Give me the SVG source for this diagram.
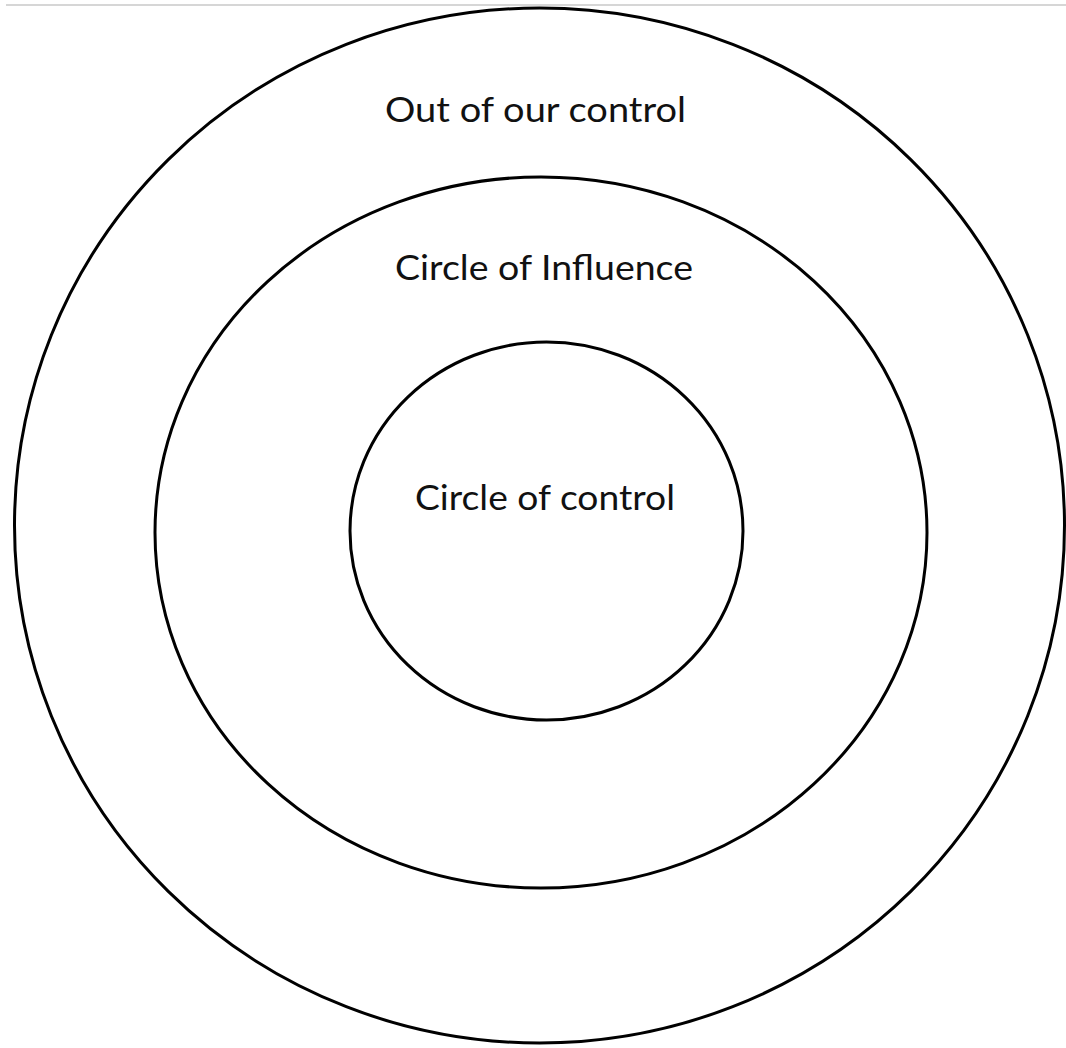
<svg xmlns="http://www.w3.org/2000/svg" width="1066" height="1048" viewBox="0 0 1066 1048">
<style>
.ring{fill:none;stroke:#000;stroke-width:3}
.lbl{font-family:Lato,"Open Sans","Liberation Sans",sans-serif;font-size:35px;fill:#111;text-anchor:middle}
</style>
<rect width="1066" height="1048" fill="#fff"/>
<line x1="6" y1="5" x2="1066" y2="5" stroke="#c8c8c8" stroke-width="1.5"/>
<g id="outer">
<ellipse class="ring" cx="539.5" cy="525.5" rx="525" ry="517.5"/>
<text class="lbl" x="535.5" y="122" textLength="301" lengthAdjust="spacingAndGlyphs">Out of our control</text>
</g>
<g id="influence">
<ellipse class="ring" cx="541" cy="532.5" rx="386" ry="355.5"/>
<text class="lbl" x="544" y="280" textLength="298" lengthAdjust="spacingAndGlyphs">Circle of Influence</text>
</g>
<g id="control">
<ellipse class="ring" cx="546.5" cy="531" rx="196.5" ry="189"/>
<text class="lbl" x="545" y="510" textLength="260" lengthAdjust="spacingAndGlyphs">Circle of control</text>
</g>
<g id="connectors"/>
</svg>
